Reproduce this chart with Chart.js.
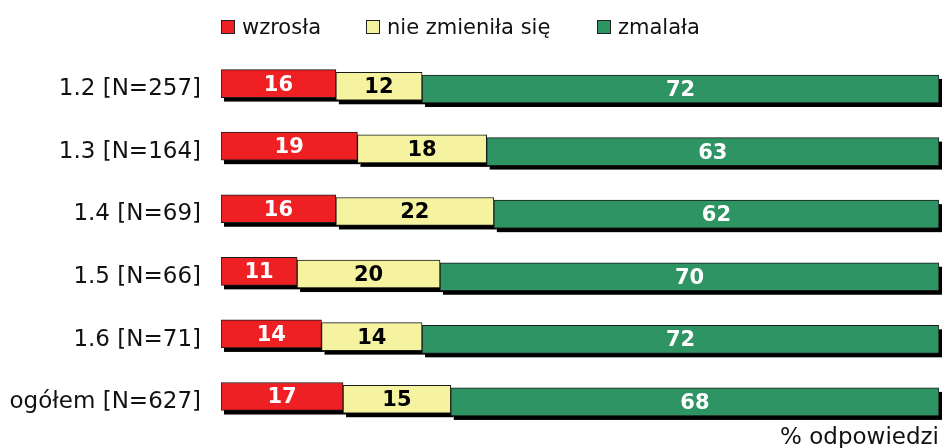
<!DOCTYPE html>
<html>
<head>
<meta charset="utf-8">
<script src="https://cdn.jsdelivr.net/npm/chart.js@4/dist/chart.umd.min.js"></script>
<style>
  html, body { margin: 0; padding: 0; background: #fff; }
  #wrap { position: relative; width: 944px; height: 448px; }
  #c { position: absolute; left: 0; top: 0; }
  .lg { position: absolute; top: 15px; display: flex; align-items: center; height: 23px;
        font-family: 'DejaVu Sans', Verdana, sans-serif; font-size: 21px; color: #111; white-space: nowrap; }
  .lg i { display: inline-block; width: 12px; height: 12px; border: 1px solid #222; margin-right: 7px; }
</style>
</head>
<body>
<div id="wrap">
  <canvas id="c" width="944" height="448"></canvas>
</div>
<script>
// ---- data ----
const categories = ['1.2 [N=257]', '1.3 [N=164]', '1.4 [N=69]', '1.5 [N=66]', '1.6 [N=71]', 'ogółem [N=627]'];
const seriesNames = ['wzrosła', 'nie zmieniła się', 'zmalała'];
const wzrosla     = [16, 19, 16, 10.6, 14, 17];
const nieZmienila = [12, 18, 22, 19.9, 14, 15];
const zmalala     = [72, 63, 62, 69.5, 72, 68];
const axisTitle = '% odpowiedzi';

// ---- styles ----
const colors = ['#EE2024', '#F5F2A0', '#2E9464'];
const labelColors = ['#ffffff', '#000000', '#ffffff'];
const legendLeft = [221, 366, 597];
const STEP = 2.7;   // pseudo-3D vertical step between series
const SHX = 3, SHY = 4; // shadow offset

const FONT = "'DejaVu Sans', Verdana, sans-serif";

const bars3d = {
  id: 'bars3d',
  beforeDatasetsDraw(chart) {
    const ctx = chart.ctx;
    ctx.save();
    ctx.fillStyle = '#000';
    chart.data.datasets.forEach((ds, i) => {
      const meta = chart.getDatasetMeta(i);
      meta.data.forEach(el => {
        const p = el.getProps(['x', 'y', 'base', 'height'], true);
        const l = Math.min(p.x, p.base), w = Math.abs(p.x - p.base);
        ctx.fillRect(l + SHX, p.y - p.height / 2 + (i - 1) * STEP + SHY, w, p.height);
      });
    });
    ctx.restore();
  },
  beforeDatasetDraw(chart, args) {
    chart.ctx.save();
    chart.ctx.translate(0, (args.index - 1) * STEP);
  },
  afterDatasetDraw(chart) {
    chart.ctx.restore();
  },
  afterDatasetsDraw(chart) {
    const ctx = chart.ctx;
    ctx.save();
    ctx.font = 'bold 21px ' + FONT;
    ctx.textAlign = 'center';
    ctx.textBaseline = 'middle';
    chart.data.datasets.forEach((ds, i) => {
      const meta = chart.getDatasetMeta(i);
      ctx.fillStyle = labelColors[i];
      meta.data.forEach((el, j) => {
        const p = el.getProps(['x', 'y', 'base'], true);
        ctx.fillText(String(Math.round(ds.data[j])), (p.x + p.base) / 2, p.y + (i - 1) * STEP + 1.5);
      });
    });
    ctx.restore();
  }
};

const seriesData = [wzrosla, nieZmienila, zmalala];
const datasets = seriesData.map((d, i) => ({
  label: seriesNames[i],
  data: d,
  backgroundColor: colors[i],
  borderColor: '#1a1a1a',
  borderWidth: 1,
  borderSkipped: false,
  barThickness: 28
}));

new Chart(document.getElementById('c'), {
  type: 'bar',
  data: { labels: categories, datasets },
  plugins: [bars3d],
  options: {
    indexAxis: 'y',
    responsive: false,
    animation: false,
    layout: { padding: { top: 55, right: 5, bottom: 0, left: 0 } },
    plugins: { legend: { display: false }, tooltip: { enabled: false } },
    scales: {
      x: {
        stacked: true, min: 0, max: 100,
        grid: { display: false, drawTicks: false }, border: { display: false },
        ticks: { display: false },
        title: { display: true, text: axisTitle, align: 'end', color: '#111',
                 font: { family: FONT, size: 23, lineHeight: 0.83 }, padding: { top: 0, bottom: 0 } },
        afterFit(scale) { scale.height = 17.5; scale.paddingLeft = 0; scale.paddingRight = 0; }
      },
      y: {
        stacked: true,
        grid: { display: false, drawTicks: false }, border: { display: false },
        ticks: { color: '#111', font: { family: FONT, size: 23 }, padding: 20, labelOffset: 3 },
        afterFit(scale) { scale.width = 221; scale.paddingTop = 0; scale.paddingBottom = 0; }
      }
    }
  }
});

// HTML legend (real text)
const wrap = document.getElementById('wrap');
seriesNames.forEach((name, i) => {
  const d = document.createElement('div');
  d.className = 'lg';
  d.style.left = legendLeft[i] + 'px';
  const b = document.createElement('i');
  b.style.background = colors[i];
  d.appendChild(b);
  d.appendChild(document.createTextNode(name));
  wrap.appendChild(d);
});
</script>
</body>
</html>
